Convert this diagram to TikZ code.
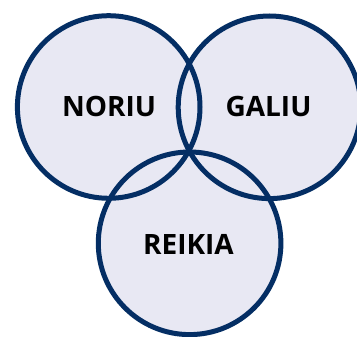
\documentclass[tikz,border=0pt]{standalone}
\usepackage{fontspec}
\setmainfont{Open Sans}
\definecolor{ringfill}{RGB}{232,232,243}
\definecolor{ringline}{RGB}{4,46,100}
\begin{document}
\begin{tikzpicture}[x=1pt,y=-1pt,
  ring/.style={circle,minimum size=182.6pt,inner sep=0pt,fill=ringfill},
  ringedge/.style={draw=ringline,line width=5pt},
  lbl/.style={font=\fontsize{28}{30}\selectfont\bfseries,text=black,inner sep=0pt}]
\useasboundingbox (0,0) rectangle (357,337);
\node[ring] (noriu) at (108.7,107) {};
\node[ring] (galiu) at (269.5,107.3) {};
\node[ring] (reikia) at (189.6,243.3) {};
\foreach \c in {noriu,galiu,reikia}
  \draw[ringedge] (\c.center) circle[radius=91.3pt];
\node[lbl] (t1) at (109,106) {NORIU};
\node[lbl] (t2) at (268.5,106) {GALIU};
\node[lbl] (t3) at (188.5,244) {REIKIA};
\end{tikzpicture}
\end{document}
